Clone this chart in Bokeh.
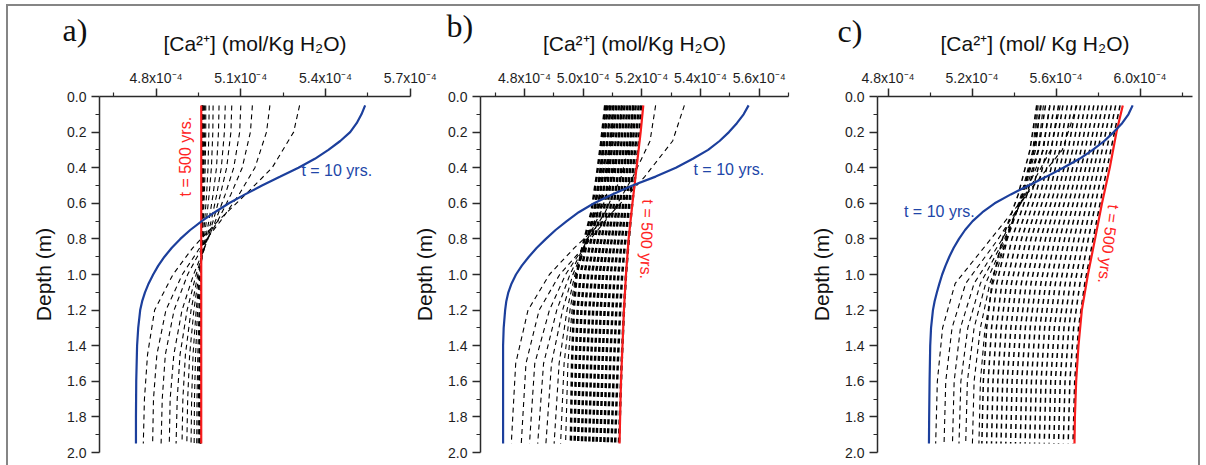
import math
from bokeh.plotting import figure
from bokeh.layouts import row
from bokeh.models import Range1d, FixedTicker, CustomJSTickFormatter, Label
from bokeh.embed import file_html
from bokeh.resources import INLINE

# ---------------- texts ----------------
x_title_ab = "[Ca²⁺] (mol/Kg H₂O)"
x_title_c = "[Ca²⁺] (mol/ Kg H₂O)"
y_title = "Depth (m)"
panel_tags = ["a)", "b)", "c)"]
label_t10 = "t = 10 yrs."
label_t500 = "t = 500 yrs."

# ---------------- ticks (concentration in units of 1e-4 mol/Kg H2O) ----------------
yticks = [0.0, 0.2, 0.4, 0.6, 0.8, 1.0, 1.2, 1.4, 1.6, 1.8, 2.0]
yminor = [0.1, 0.3, 0.5, 0.7, 0.9, 1.1, 1.3, 1.5, 1.7, 1.9]
xticks_a = [4.8, 5.1, 5.4, 5.7]
xminor_a = [4.65, 4.95, 5.25, 5.55]
xticks_b = [4.8, 5.0, 5.2, 5.4, 5.6]
xminor_b = [4.7, 4.9, 5.1, 5.3, 5.5, 5.7]
xticks_c = [4.8, 5.2, 5.6, 6.0]
xminor_c = [5.0, 5.4, 5.8, 6.2]

# ---------------- depths (m) ----------------
depth_blue = [0.05, 0.1, 0.15, 0.2, 0.25, 0.3, 0.35, 0.4, 0.45, 0.5, 0.55, 0.6, 0.65, 0.7,
              0.75, 0.8, 0.85, 0.9, 0.95, 1.0, 1.05, 1.1, 1.15, 1.2, 1.3, 1.4, 1.6, 1.8, 1.95]
depth_red = [0.05, 0.2, 0.4, 0.6, 0.8, 1.0, 1.2, 1.4, 1.6, 1.8, 1.95]
depth_a = [0.05, 0.2, 0.4, 0.55, 0.7, 0.85, 1.0, 1.2, 1.45, 1.7, 1.95]
depth_b = [0.05, 0.25, 0.45, 0.65, 0.85, 1.0, 1.2, 1.5, 1.95]
depth_c = [0.05, 0.3, 0.55, 0.8, 1.05, 1.3, 1.6, 1.95]

# ---------------- panel a ----------------
blue_a = [5.540, 5.527, 5.510, 5.487, 5.452, 5.410, 5.362, 5.304, 5.240, 5.175, 5.115, 5.058,
          5.008, 4.962, 4.921, 4.886, 4.856, 4.830, 4.808, 4.790, 4.774, 4.761, 4.751, 4.744,
          4.737, 4.733, 4.730, 4.729, 4.729]
red_a = [4.960, 4.960, 4.960, 4.960, 4.960, 4.960, 4.960, 4.960, 4.960, 4.960, 4.960]
dashed_a = [
    [5.308, 5.287, 5.211, 5.117, 5.019, 4.930, 4.860, 4.795, 4.770, 4.759, 4.755],
    [5.203, 5.191, 5.150, 5.094, 5.028, 4.955, 4.893, 4.835, 4.803, 4.791, 4.788],
    [5.141, 5.134, 5.105, 5.065, 5.018, 4.963, 4.912, 4.864, 4.833, 4.822, 4.818],
    [5.100, 5.096, 5.075, 5.045, 5.010, 4.971, 4.933, 4.892, 4.863, 4.850, 4.847],
    [5.068, 5.065, 5.050, 5.028, 5.002, 4.972, 4.942, 4.910, 4.885, 4.875, 4.871],
    [5.045, 5.042, 5.031, 5.015, 4.995, 4.971, 4.948, 4.924, 4.904, 4.895, 4.892],
    [5.023, 5.021, 5.014, 5.002, 4.987, 4.969, 4.952, 4.934, 4.919, 4.912, 4.909],
    [5.002, 5.001, 4.996, 4.988, 4.978, 4.967, 4.955, 4.942, 4.931, 4.926, 4.924],
    [4.988, 4.987, 4.984, 4.979, 4.972, 4.964, 4.956, 4.947, 4.940, 4.936, 4.935],
    [4.976, 4.976, 4.974, 4.971, 4.967, 4.962, 4.958, 4.952, 4.948, 4.945, 4.944],
    [4.972, 4.972, 4.970, 4.968, 4.965, 4.962, 4.959, 4.955, 4.952, 4.950, 4.949],
    [4.969, 4.969, 4.968, 4.966, 4.964, 4.961, 4.959, 4.956, 4.954, 4.953, 4.952],
    [4.967, 4.967, 4.966, 4.965, 4.963, 4.961, 4.959, 4.957, 4.955, 4.954, 4.954],
    [4.965, 4.965, 4.964, 4.963, 4.962, 4.961, 4.959, 4.958, 4.957, 4.956, 4.956],
    [4.964, 4.964, 4.963, 4.963, 4.962, 4.960, 4.959, 4.958, 4.957, 4.957, 4.957],
    [4.963, 4.963, 4.962, 4.962, 4.961, 4.960, 4.960, 4.959, 4.958, 4.958, 4.958],
    [4.962, 4.962, 4.962, 4.961, 4.961, 4.960, 4.960, 4.959, 4.959, 4.959, 4.959],
]

# ---------------- panel b ----------------
blue_b = [5.564, 5.547, 5.524, 5.497, 5.465, 5.426, 5.374, 5.316, 5.247, 5.168, 5.099, 5.037,
          4.985, 4.944, 4.906, 4.873, 4.842, 4.815, 4.791, 4.771, 4.756, 4.745, 4.738, 4.734,
          4.729, 4.727, 4.727, 4.727, 4.727]
red_b = [5.205, 5.196, 5.182, 5.168, 5.155, 5.146, 5.139, 5.134, 5.129, 5.126, 5.124]
early_b = [
    [5.345, 5.305, 5.210, 5.100, 4.970, 4.885, 4.812, 4.770, 4.755],
    [5.247, 5.228, 5.170, 5.100, 5.000, 4.920, 4.850, 4.805, 4.789],
    [5.170, 5.160, 5.130, 5.075, 5.000, 4.940, 4.885, 4.835, 4.817],
    [5.130, 5.120, 5.100, 5.060, 5.000, 4.955, 4.910, 4.865, 4.845],
    [5.105, 5.096, 5.080, 5.050, 5.003, 4.965, 4.930, 4.892, 4.873],
    [5.090, 5.083, 5.068, 5.043, 5.005, 4.972, 4.945, 4.918, 4.901],
    [5.080, 5.073, 5.060, 5.038, 5.005, 4.976, 4.955, 4.935, 4.923],
    [5.075, 5.068, 5.055, 5.035, 5.003, 4.978, 4.962, 4.948, 4.940],
]
late_b = [
    [5.075, 5.062, 5.046, 5.028, 4.997, 4.978, 4.968, 4.962, 4.958],
    [5.084, 5.072, 5.056, 5.038, 5.009, 4.991, 4.981, 4.975, 4.971],
    [5.094, 5.082, 5.066, 5.049, 5.021, 5.004, 4.994, 4.988, 4.983],
    [5.103, 5.092, 5.076, 5.059, 5.033, 5.017, 5.007, 5.001, 4.996],
    [5.113, 5.101, 5.086, 5.070, 5.045, 5.030, 5.021, 5.014, 5.008],
    [5.122, 5.111, 5.096, 5.080, 5.057, 5.043, 5.034, 5.027, 5.021],
    [5.132, 5.121, 5.106, 5.091, 5.069, 5.056, 5.047, 5.040, 5.034],
    [5.141, 5.131, 5.117, 5.101, 5.081, 5.068, 5.060, 5.053, 5.046],
    [5.151, 5.141, 5.127, 5.112, 5.093, 5.081, 5.073, 5.066, 5.059],
    [5.160, 5.151, 5.137, 5.122, 5.105, 5.094, 5.086, 5.079, 5.072],
    [5.170, 5.161, 5.147, 5.133, 5.117, 5.107, 5.100, 5.092, 5.084],
    [5.179, 5.170, 5.157, 5.143, 5.129, 5.120, 5.113, 5.105, 5.097],
    [5.189, 5.180, 5.167, 5.154, 5.141, 5.133, 5.126, 5.118, 5.109],
    [5.198, 5.190, 5.177, 5.164, 5.153, 5.146, 5.139, 5.131, 5.122],
]

# ---------------- panel c ----------------
blue_c = [5.965, 5.945, 5.915, 5.875, 5.830, 5.775, 5.712, 5.635, 5.555, 5.470, 5.385, 5.308,
          5.250, 5.203, 5.167, 5.138, 5.113, 5.092, 5.074, 5.058, 5.045, 5.033, 5.022, 5.014,
          5.005, 5.001, 4.998, 4.996, 4.995]
red_c = [5.918, 5.888, 5.856, 5.819, 5.786, 5.752, 5.723, 5.707, 5.696, 5.690, 5.688]
early_c = [
    [5.700, 5.630, 5.460, 5.290, 5.120, 5.060, 5.035, 5.027],
    [5.620, 5.575, 5.460, 5.325, 5.170, 5.105, 5.075, 5.067],
    [5.570, 5.540, 5.455, 5.345, 5.210, 5.145, 5.115, 5.107],
    [5.540, 5.515, 5.450, 5.355, 5.240, 5.180, 5.147, 5.138],
    [5.525, 5.503, 5.445, 5.360, 5.265, 5.210, 5.178, 5.170],
    [5.515, 5.495, 5.440, 5.365, 5.285, 5.240, 5.210, 5.202],
    [5.510, 5.490, 5.435, 5.365, 5.300, 5.262, 5.240, 5.233],
]
late_c = [
    [5.508, 5.476, 5.420, 5.345, 5.295, 5.270, 5.254, 5.247],
    [5.529, 5.496, 5.441, 5.368, 5.318, 5.293, 5.277, 5.270],
    [5.550, 5.517, 5.462, 5.390, 5.342, 5.316, 5.300, 5.293],
    [5.571, 5.537, 5.483, 5.413, 5.365, 5.339, 5.323, 5.316],
    [5.592, 5.557, 5.504, 5.436, 5.388, 5.362, 5.346, 5.338],
    [5.612, 5.577, 5.525, 5.459, 5.411, 5.385, 5.368, 5.361],
    [5.633, 5.598, 5.546, 5.481, 5.435, 5.408, 5.391, 5.384],
    [5.654, 5.618, 5.567, 5.504, 5.458, 5.431, 5.414, 5.407],
    [5.675, 5.638, 5.588, 5.527, 5.481, 5.454, 5.437, 5.430],
    [5.696, 5.658, 5.609, 5.550, 5.504, 5.477, 5.460, 5.453],
    [5.717, 5.679, 5.629, 5.572, 5.528, 5.500, 5.483, 5.475],
    [5.738, 5.699, 5.650, 5.595, 5.551, 5.523, 5.506, 5.498],
    [5.759, 5.719, 5.671, 5.618, 5.574, 5.546, 5.529, 5.521],
    [5.780, 5.739, 5.692, 5.641, 5.597, 5.569, 5.552, 5.544],
    [5.801, 5.760, 5.713, 5.663, 5.621, 5.592, 5.575, 5.567],
    [5.821, 5.780, 5.734, 5.686, 5.644, 5.615, 5.597, 5.590],
    [5.842, 5.800, 5.755, 5.709, 5.667, 5.638, 5.620, 5.612],
    [5.863, 5.820, 5.776, 5.732, 5.690, 5.661, 5.643, 5.635],
    [5.884, 5.841, 5.797, 5.754, 5.714, 5.684, 5.666, 5.658],
    [5.905, 5.861, 5.818, 5.777, 5.737, 5.707, 5.689, 5.681],
]

# ---------------- styling ----------------
SANS = "Liberation Sans"
SERIF = "Liberation Serif"
BLUE = "#1c3f9c"
RED = "#f81c1c"
BLUE_TXT = "#2146a8"
RED_TXT = "#ff2424"
AXIS = "#2a2a2a"
DASH = "5 4"


def make_panel(width, xr, xt, xm, title, tag, tag_offset, tag_standoff, tag_lh,
               bl, br, bt, bb, styles=None):
    kw = {}
    if styles:
        kw["styles"] = styles
    p = figure(width=width, height=459, x_range=Range1d(*xr), y_range=Range1d(2.0, 0.0),
               x_axis_location="above", y_axis_location="left",
               output_backend="svg", toolbar_location=None,
               min_border_left=bl, min_border_right=br, min_border_top=bt, min_border_bottom=bb,
               **kw)
    p.grid.visible = False
    p.outline_line_color = None
    p.border_fill_color = None
    p.background_fill_color = None
    # panel letter
    p.title.text = tag
    p.title.text_font = SERIF
    p.title.text_font_size = "32px"
    p.title.text_font_style = "normal"
    p.title.text_color = "#111111"
    p.title.text_line_height = tag_lh
    p.title.align = "left"
    p.title.offset = tag_offset
    p.title.standoff = tag_standoff
    xa = p.xaxis[0]
    ya = p.yaxis[0]
    xa.ticker = FixedTicker(ticks=xt, minor_ticks=xm)
    xa.formatter = CustomJSTickFormatter(code="return tick.toFixed(1) + 'x10⁻⁴';")
    ya.ticker = FixedTicker(ticks=yticks, minor_ticks=yminor)
    ya.formatter = CustomJSTickFormatter(code="return tick.toFixed(1);")
    xa.axis_label = title
    ya.axis_label = y_title
    for ax in (xa, ya):
        ax.axis_line_color = AXIS
        ax.axis_line_width = 1.5
        ax.major_tick_line_color = AXIS
        ax.major_tick_line_width = 1.5
        ax.minor_tick_line_color = AXIS
        ax.minor_tick_line_width = 1.2
        ax.major_tick_in = 0
        ax.major_tick_out = 8
        ax.minor_tick_in = 0
        ax.minor_tick_out = 4
        ax.major_label_text_font = SANS
        ax.major_label_text_font_size = "14px"
        ax.major_label_text_color = "#1e1e1e"
        ax.axis_label_text_font = SANS
        ax.axis_label_text_font_size = "21px"
        ax.axis_label_text_font_style = "normal"
        ax.axis_label_text_color = "#111111"
    xa.major_label_standoff = 3
    xa.axis_label_standoff = 12
    ya.major_label_standoff = 5
    ya.axis_label_standoff = 9
    return p


def dashed(p, depth, curves, lw):
    p.multi_line(xs=curves, ys=[depth for _ in curves], line_color="black",
                 line_width=lw, line_dash=DASH)


def note(p, x, y, text, color, angle=0.0, align="left"):
    p.add_layout(Label(x=x, y=y, text=text, text_font=SANS, text_font_size="16px",
                       text_color=color, angle=angle, text_align=align, text_baseline="middle"))


# panel a
pa = make_panel(437, (4.6, 5.7005), xticks_a, xminor_a, x_title_ab, panel_tags[0], -37, -38, 0.6,
                91, 35, 88, 13)
dashed(pa, depth_a, dashed_a, 1.1)
pa.line(red_a, depth_red, line_color=RED, line_width=2.2)
pa.line(blue_a, depth_blue, line_color=BLUE, line_width=2.2)
note(pa, 5.3145, 0.413, label_t10, BLUE_TXT)
note(pa, 4.904, 0.338, label_t500, RED_TXT, angle=math.pi / 2, align="center")

# panel b
pb = make_panel(395, (4.65, 5.70), xticks_b, xminor_b, x_title_ab, panel_tags[1], -34, -31, 1.4,
                67, 17, 90, 10, styles={"margin-left": "-35px"})
dashed(pb, depth_b, late_b, 2.5)
dashed(pb, depth_b, early_b, 1.1)
pb.line(red_b, depth_red, line_color=RED, line_width=2.2)
pb.line(blue_b, depth_blue, line_color=BLUE, line_width=2.2)
note(pb, 5.376, 0.412, label_t10, BLUE_TXT)
note(pb, 5.217, 0.802, label_t500, RED_TXT, angle=-math.pi / 2 - 0.03, align="center")

# panel c
pc = make_panel(393, (4.75, 6.25), xticks_c, xminor_c, x_title_c, panel_tags[2], -40, -40, 1.0,
                72, 6, 86, 11)
dashed(pc, depth_c, late_c, 1.5)
dashed(pc, depth_c, early_c, 1.1)
pc.line(red_c, depth_red, line_color=RED, line_width=2.2)
pc.line(blue_c, depth_blue, line_color=BLUE, line_width=2.2)
note(pc, 4.876, 0.644, label_t10, BLUE_TXT)
note(pc, 5.850, 0.829, label_t500, RED_TXT, angle=-1.70, align="center")

layout = row(pa, pb, pc, styles={
    "margin-left": "6px", "margin-top": "4px",
    "border-top": "2px solid #858585", "border-left": "2px solid #858585",
    "border-right": "2px solid #858585",
})

open("out.html", "w", encoding="utf-8").write(file_html(layout, INLINE))
